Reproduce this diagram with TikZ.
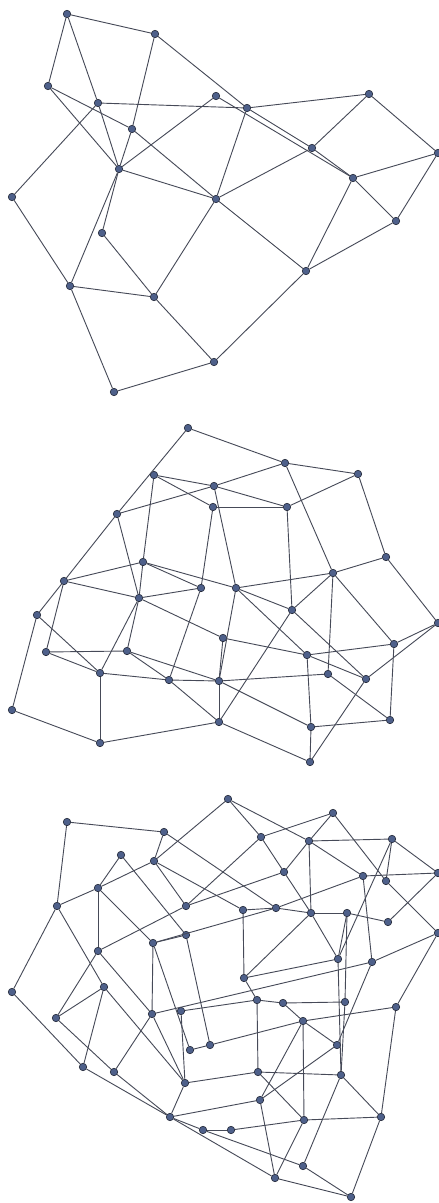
\documentclass[tikz,border=0pt]{standalone}
\definecolor{nodefill}{RGB}{78,96,138}
\definecolor{nodeline}{RGB}{30,35,50}
\definecolor{edgecol}{RGB}{70,74,88}
\begin{document}
\begin{tikzpicture}[x=0.1cm,y=-0.1cm,
  v/.style={circle,fill=nodefill,draw=nodeline,line width=1.6pt,inner sep=0pt,minimum size=0.75cm},
  ed/.style={draw=edgecol,line width=2.6pt}]
\useasboundingbox (0,0) rectangle (439,1203);
% ---------- graph 1 ----------
\foreach \n/\x/\y in {A/67/14,B/155/34,C/48/86,D/98/103,E/216/96,F/132/129,G/119/169,H/12/197,I/216/199,J/247/108,K/369/94,L/312/148,M/438/153,N/353/178,O/102/233,P/70/286,Q/154/297,R/214/362,S/114/392,T/396/221,U/306/271}
  \node[v] (\n) at (\x,\y) {};
\foreach \p/\q in {A/B,A/C,A/D,D/G,C/F,C/G,B/F,F/G,F/I,D/J,D/H,E/G,E/N,G/I,G/P,G/O,B/J,J/K,J/I,J/L,L/N,I/L,K/L,K/M,M/N,M/T,N/T,N/U,U/T,I/U,U/R,H/P,P/Q,P/S,O/Q,Q/I,Q/R,R/S}
  \draw[ed] (\p) -- (\q);
% ---------- graph 2 ----------
\foreach \n/\x/\y in {a1/188/428,a2/154/475,a3/214/486,a4/213/507,a5/117/514,a6/143/562,a7/64/581,a8/201/588,a9/139/598,b1/285/463,b2/358/474,b3/287/507,b4/386/557,b5/333/573,b6/236/588,c1/37/615,c2/223/638,c3/46/652,c4/127/651,c5/100/673,c6/169/680,c7/219/681,c8/12/710,c9/219/722,c10/100/743,d1/292/610,d2/438/623,d3/394/644,d4/307/655,d5/328/674,d6/366/679,d7/311/727,d8/390/720,d9/310/762}
  \node[v] (\n) at (\x,\y) {};
\foreach \p/\q in {a1/b1,a1/a5,a5/a7,a2/a3,a2/a4,a2/a6,a5/a3,a5/a9,a6/a7,a6/a9,a6/a8,a6/b6,a7/a9,a9/a8,a3/b6,a4/a8,a4/b3,a3/b1,a3/b3,b1/b2,b2/b3,b1/b5,b2/b4,b4/b5,b5/b6,b3/d1,b4/d2,b5/d5,b5/d3,b5/d1,a7/c1,a7/c3,a9/c5,a9/c4,a9/c2,a8/c6,c1/c5,c1/c8,c3/c4,c3/c5,c4/c6,c4/c7,c5/c6,c6/c7,c5/c10,c8/c10,c10/c9,c6/c9,c7/c9,c2/c7,b6/c7,c7/d5,c7/d7,c9/d1,c9/d9,c2/d4,b6/d1,b6/d4,d1/d6,d2/d3,d3/d4,d3/d8,d4/d7,d5/d8,d6/d9,d7/d8,d7/d9,d6/d2,d4/d6}
  \draw[ed] (\p) -- (\q);
% ---------- graph 3 ----------
\foreach \n/\x/\y in {e1/67/822,e2/164/832,e3/228/799,e4/121/855,e5/154/861,e6/98/888,e7/57/906,e8/186/906,e9/186/935,e10/153/943,e11/98/951,e12/104/987,e13/12/992,f1/333/813,f2/261/837,f3/309/841,f4/392/839,f5/284/872,f6/363/876,f7/438/873,f8/386/881,f9/243/910,f10/276/908,f11/311/913,f12/347/913,f13/388/922,f14/438/933,f15/338/959,f16/372/962,f17/244/978,g1/257/1000,g2/283/1003,g3/345/1002,g4/396/1007,g5/303/1021,g6/337/1045,g7/258/1072,g8/341/1075,g9/260/1100,g10/381/1117,g11/304/1120,g12/231/1130,g13/303/1166,g14/275/1178,g15/351/1197,h1/56/1018,h2/152/1014,h3/181/1011,h4/190/1050,h5/210/1045,h6/83/1067,h7/114/1072,h8/185/1083,h9/170/1117,h10/203/1130}
  \node[v] (\n) at (\x,\y) {};
\foreach \p/\q in {e1/e2,e1/e7,e2/e5,e2/f10,e3/e5,e3/f2,e3/f3,e4/e6,e4/e9,e5/e6,e5/e8,e5/f9,e6/e7,e6/e11,e6/e10,e7/e12,e7/e13,e8/e11,e8/f5,f2/e8,e9/e10,e9/h5,e10/h2,e10/h4,e10/f10,e11/h2,e11/h1,e12/h1,e12/h6,e12/h8,e13/h6,
  h1/h7,h2/h7,h2/h8,h3/h8,h3/g1,h4/h5,h6/h9,h7/h9,h9/h10,h8/h9,h9/g9,h10/g12,h9/g14,h10/g13,h8/g7,h2/f16,h5/g5,
  f1/f2,f1/f3,f1/f8,f3/f4,f3/f6,f3/f11,f3/f5,f2/f5,f5/f11,f4/f7,f4/f8,f4/f15,f6/f7,f6/f16,f6/f10,f7/f13,f8/f14,f9/f10,f10/f11,f11/f12,f12/f13,f9/f17,f11/f15,f11/f17,f12/g3,f15/f17,f15/f12,f16/f14,f17/g1,f16/g6,f14/g4,
  g1/g2,g2/g3,g1/g7,g2/g5,g5/g4,g5/g6,g5/g11,g5/g9,g3/g8,g4/g10,g7/g8,g7/g11,g8/g10,g8/g13,g9/g6,g9/g14,g11/g10,g11/g14,g12/g11,g10/g15,g13/g15,g14/g15,f15/g8}
  \draw[ed] (\p) -- (\q);
\end{tikzpicture}
\end{document}
